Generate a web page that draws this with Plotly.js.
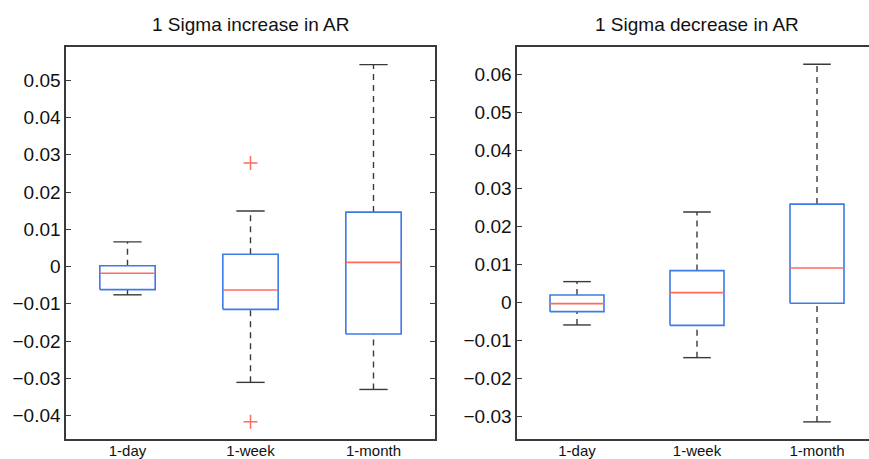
<!DOCTYPE html>
<html><head><meta charset="utf-8">
<script src="https://cdn.plot.ly/plotly-3.0.1.min.js"></script>
<style>html,body{margin:0;padding:0;overflow:hidden;background:#fff}#chart{width:880px;height:459px}</style>
</head><body><div id="chart"></div>
<script>
const categories = ['1-day', '1-week', '1-month'];
const positions = [1, 2, 3];

// 1 Sigma increase in AR
const incQ1 = [-0.0062, -0.0115, -0.0181];
const incMedian = [-0.0018, -0.0063, 0.0011];
const incQ3 = [0.0002, 0.0033, 0.0146];
const incLower = [-0.0076, -0.0311, -0.0330];
const incUpper = [0.0066, 0.0149, 0.0542];
const incOutlierCat = [2, 2];
const incOutlierVal = [0.0278, -0.0417];

// 1 Sigma decrease in AR
const decQ1 = [-0.0024, -0.0060, -0.0002];
const decMedian = [-0.0003, 0.0026, 0.0091];
const decQ3 = [0.0020, 0.0084, 0.0259];
const decLower = [-0.0059, -0.0145, -0.0314];
const decUpper = [0.0055, 0.0238, 0.0627];
const decOutlierCat = [];
const decOutlierVal = [];

const BOX_HALF = 0.225, CAP_HALF = 0.115;
const BLUE = '#3d7ae6', RED = '#ff6b5c', DARK = '#3a3a3a';

function panel(q1, med, q3, lo, hi, ox, oy, xa, ya) {
  const traces = [];
  const wx = [], wy = [], cx = [], cy = [], mx = [], my = [], bx = [], by = [];
  positions.forEach((p, i) => {
    wx.push(p, p, null, p, p, null);
    wy.push(q3[i], hi[i], null, lo[i], q1[i], null);
    cx.push(p - CAP_HALF, p + CAP_HALF, null, p - CAP_HALF, p + CAP_HALF, null);
    cy.push(hi[i], hi[i], null, lo[i], lo[i], null);
    mx.push(p - BOX_HALF, p + BOX_HALF, null);
    my.push(med[i], med[i], null);
    bx.push(p - BOX_HALF, p + BOX_HALF, p + BOX_HALF, p - BOX_HALF, p - BOX_HALF, null);
    by.push(q1[i], q1[i], q3[i], q3[i], q1[i], null);
  });
  traces.push({type: 'scatter', mode: 'lines', x: wx, y: wy, xaxis: xa, yaxis: ya,
    line: {color: DARK, width: 1.4, dash: '6px,5px'}, showlegend: false, hoverinfo: 'skip'});
  traces.push({type: 'scatter', mode: 'lines', x: cx, y: cy, xaxis: xa, yaxis: ya,
    line: {color: DARK, width: 1.4}, showlegend: false, hoverinfo: 'skip'});
  traces.push({type: 'scatter', mode: 'lines', x: bx, y: by, xaxis: xa, yaxis: ya,
    line: {color: BLUE, width: 1.6}, showlegend: false, hoverinfo: 'skip'});
  traces.push({type: 'scatter', mode: 'lines', x: mx, y: my, xaxis: xa, yaxis: ya,
    line: {color: RED, width: 1.6}, showlegend: false, hoverinfo: 'skip'});
  if (ox.length) traces.push({type: 'scatter', mode: 'markers', x: ox, y: oy, xaxis: xa, yaxis: ya,
    marker: {symbol: 'cross-thin', size: 10, line: {color: RED, width: 1.5}}, showlegend: false, hoverinfo: 'skip'});
  return traces;
}

const data = [].concat(
  panel(incQ1, incMedian, incQ3, incLower, incUpper, incOutlierCat, incOutlierVal, 'x', 'y'),
  panel(decQ1, decMedian, decQ3, decLower, decUpper, decOutlierCat, decOutlierVal, 'x2', 'y2')
);

const W = 880, H = 459;
const font = {family: '"Liberation Sans", Arial, Helvetica, sans-serif', color: '#111'};
function xaxis(d0, d1, anchor) {
  return {domain: [d0, d1], anchor: anchor, range: [0.5, 3.5], tickmode: 'array',
    tickvals: positions, ticktext: categories, ticks: '', showgrid: false, zeroline: false,
    showline: true, mirror: true, linecolor: DARK, linewidth: 1.6, ticklabelstandoff: -3,
    tickfont: Object.assign({size: 15}, font)};
}
function yaxis(range, anchor) {
  return {domain: [20 / H, 1 - 46.7 / H], anchor: anchor, range: range, dtick: 0.01, tick0: 0,
    ticks: 'inside', ticklen: 5, tickcolor: DARK, tickwidth: 1, showgrid: false, zeroline: false,
    showline: true, mirror: 'ticks', linecolor: DARK, linewidth: 1.6,
    tickfont: Object.assign({size: 19}, font)};
}
const layout = {
  width: W, height: H, margin: {l: 0, r: 0, t: 0, b: 0, pad: 0},
  paper_bgcolor: '#fff', plot_bgcolor: '#fff', showlegend: false,
  xaxis: xaxis(66 / W, 435 / W, 'y'),
  yaxis: yaxis([-0.0463, 0.0590], 'x'),
  xaxis2: xaxis(517 / W, 877 / W, 'y2'),
  yaxis2: yaxis([-0.0359, 0.0673], 'x2'),
  annotations: [
    {text: '1 Sigma increase in AR', xref: 'paper', yref: 'paper', x: 250.5 / W, y: 1 - 25 / H,
     xanchor: 'center', yanchor: 'middle', showarrow: false, font: Object.assign({size: 19}, font)},
    {text: '1 Sigma decrease in AR', xref: 'paper', yref: 'paper', x: 697 / W, y: 1 - 25 / H,
     xanchor: 'center', yanchor: 'middle', showarrow: false, font: Object.assign({size: 19}, font)}
  ]
};
Plotly.newPlot('chart', data, layout, {staticPlot: true, displayModeBar: false});
</script></body></html>
